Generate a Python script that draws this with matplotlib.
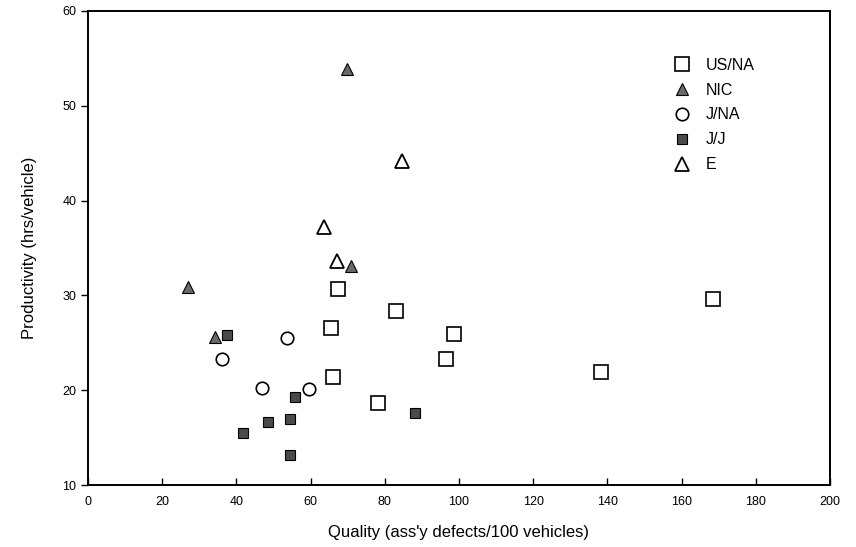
import matplotlib
matplotlib.use("Agg")
import matplotlib.pyplot as plt

plt.rcParams['font.family'] = ['Liberation Sans', 'DejaVu Sans']

# Data: quality (assembly defects / 100 vehicles) vs productivity (hrs/vehicle)
us_na_x = [67.5, 83.0, 65.4, 66.1, 78.2, 98.7, 96.4, 138.3, 168.5]
us_na_y = [30.7, 28.4, 26.6, 21.4, 18.6, 25.9, 23.3, 21.9, 29.6]

nic_x = [69.7, 70.9, 27.0, 34.2]
nic_y = [53.9, 33.1, 30.9, 25.6]

j_na_x = [53.6, 36.0, 46.8, 59.6]
j_na_y = [25.5, 23.3, 20.2, 20.1]

j_j_x = [37.4, 55.8, 88.1, 54.4, 48.6, 41.7, 54.4]
j_j_y = [25.8, 19.3, 17.6, 17.0, 16.6, 15.5, 13.2]

e_x = [84.7, 63.6, 67.0]
e_y = [44.2, 37.2, 33.6]

x_ticks = [0, 20, 40, 60, 80, 100, 120, 140, 160, 180, 200]
y_ticks = [10, 20, 30, 40, 50, 60]

fig = plt.figure(figsize=(8.56, 5.47), dpi=100)
ax = fig.add_axes([88/856, 1 - 485/547, (830-88)/856, (485-11)/547])

ax.plot(us_na_x, us_na_y, linestyle='none', marker='s', markersize=9.5,
        markerfacecolor='white', markeredgecolor='black', markeredgewidth=1.2, label='US/NA')
ax.plot(nic_x, nic_y, linestyle='none', marker='^', markersize=9,
        markerfacecolor='#6a6a6a', markeredgecolor='black', markeredgewidth=0.8, label='NIC')
ax.plot(j_na_x, j_na_y, linestyle='none', marker='o', markersize=9,
        markerfacecolor='white', markeredgecolor='black', markeredgewidth=1.2, label='J/NA')
ax.plot(j_j_x, j_j_y, linestyle='none', marker='s', markersize=7,
        markerfacecolor='#4a4a4a', markeredgecolor='black', markeredgewidth=0.8, label='J/J')
ax.plot(e_x, e_y, linestyle='none', marker='^', markersize=9.5,
        markerfacecolor='white', markeredgecolor='black', markeredgewidth=1.3, label='E')

ax.set_xlim(0, 200)
ax.set_ylim(10, 60)
ax.set_xticks(x_ticks)
ax.set_yticks(y_ticks)
ax.tick_params(axis='x', direction='in', length=5, width=1, labelsize=9, pad=8)
ax.tick_params(axis='y', direction='out', length=5, width=1, labelsize=9)
for s in ax.spines.values():
    s.set_linewidth(1.4)

ax.set_xlabel("Quality (ass'y defects/100 vehicles)", fontsize=12, labelpad=12)
ax.set_ylabel("Productivity (hrs/vehicle)", fontsize=12, labelpad=18)

ax.legend(loc='upper left', bbox_to_anchor=(0.77, 0.915), frameon=False,
          fontsize=11.5, handletextpad=0.5, labelspacing=0.62, borderaxespad=0)

fig.savefig("out.png", dpi=100)
